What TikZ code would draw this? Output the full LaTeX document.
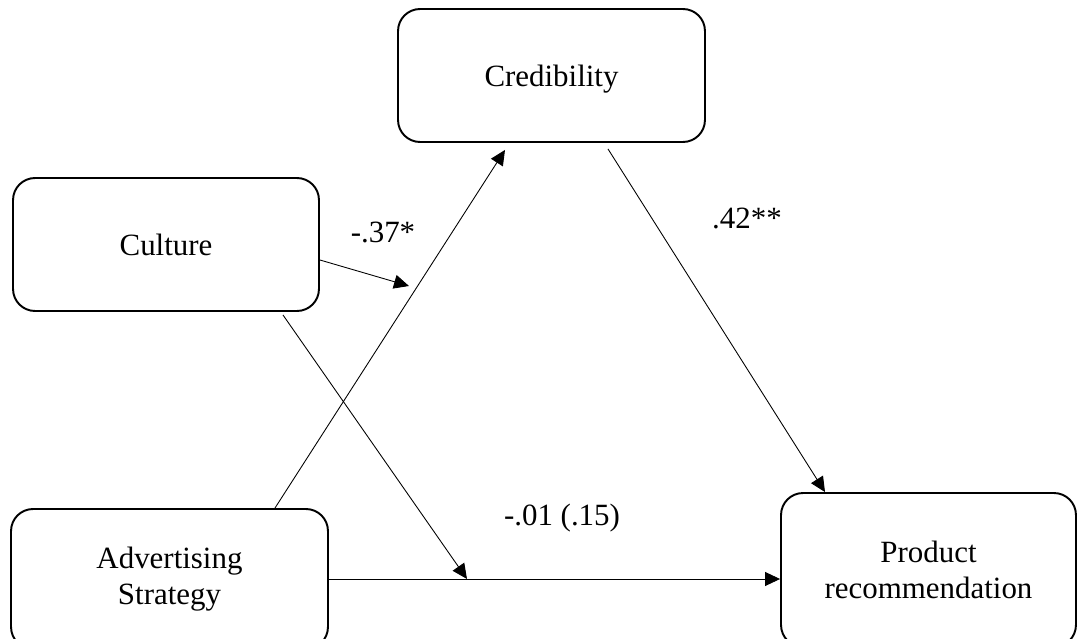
\documentclass[tikz,border=0pt]{standalone}
\usepackage{fontspec}
\setmainfont{Liberation Serif}
\usetikzlibrary{arrows.meta}

\begin{document}
\begin{tikzpicture}[x=0.02cm,y=-0.02cm,
  box/.style={draw,line width=1.1pt,rounded corners=0.44cm,align=center,
    font=\fontsize{17.6pt}{20.5pt}\selectfont},
  effect/.style={line width=0.5pt,-{Triangle[length=0.3cm,width=0.28cm]}},
  coef/.style={font=\fontsize{17.6pt}{20.5pt}\selectfont}]
\useasboundingbox (0,0) rectangle (1080,639);
\clip (0,0) rectangle (1080,639);
\node[box,minimum width=6.14cm,minimum height=2.66cm,text depth=0pt] (cred) at (551.5,75.5) {Credibility};
\node[box,minimum width=6.12cm,minimum height=2.66cm] (cult) at (166,244.5) {Culture};
\node[box,minimum width=6.34cm,minimum height=2.8cm] (adv) at (169.5,579) {Advertising\\Strategy};
\node[box,minimum width=5.9cm,minimum height=3.08cm] (prod) at (928.5,570) {Product\\recommendation};
\coordinate (mod1) at (409,286);
\coordinate (mod2) at (467,579);
\draw[effect] ([xshift=2.11cm]adv.north) -- ([xshift=-0.93cm,yshift=-0.14cm]cred.south);
\draw[effect] ([xshift=1.13cm,yshift=-0.12cm]cred.south) -- ([xshift=-2.07cm]prod.north);
\draw[effect] (adv.east) -- (adv.east -| prod.west);
\draw[effect] ([yshift=-0.31cm]cult.east) -- (mod1);
\draw[effect] ([xshift=2.34cm,yshift=-0.06cm]cult.south) -- (mod2);
\node[coef] (a1) at (383,232) {-.37*};
\node[coef] (b1) at (747,218) {.42**};
\node[coef] (c1) at (562,518) {-.01 (.15)};
\end{tikzpicture}
\end{document}
